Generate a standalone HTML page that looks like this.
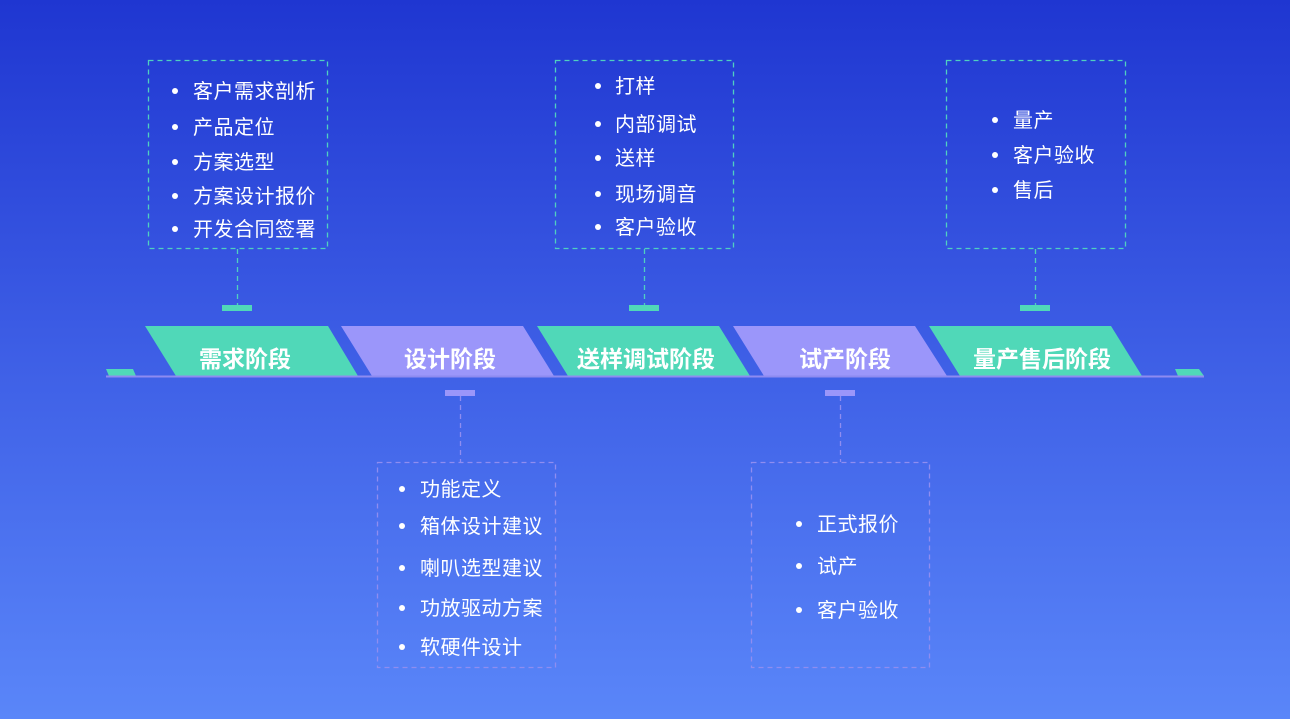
<!DOCTYPE html>
<html><head><meta charset="utf-8"><style>
body{margin:0}
#c{position:relative;width:1290px;height:719px;overflow:hidden;background:linear-gradient(180deg,#1f36d1 0%,#3e5fe6 50%,#5a86f9 100%);font-family:"Liberation Sans","Noto Sans CJK SC",sans-serif;color:#fff}
.t{position:absolute;font-size:20px;letter-spacing:0.5px;line-height:24px;white-space:nowrap;transform:translateY(-45%)}
.d{position:absolute;width:6px;height:6px;border-radius:50%;background:#fff;transform:translate(-50%,-50%)}
.lbl{position:absolute;top:357px;transform:translate(-50%,-50%);font-size:23px;font-weight:bold;white-space:nowrap}
</style></head><body><div id="c">
<svg width="1290" height="719" style="position:absolute;left:0;top:0">
<g fill="#50d8b8">
<polygon points="145,326 328,326 358,376 176,376"/>
<polygon points="537,326 719,326 750,376 568,376"/>
<polygon points="929,326 1111,326 1142,376 960,376"/>
<polygon points="106,369 133,369 136,376 109,376"/>
<polygon points="1175,369 1199,369 1204,376 1178,376"/>
</g>
<g fill="#9b96fa">
<polygon points="341,326 523,326 554,376 372,376"/>
<polygon points="733,326 915,326 947,376 764,376"/>
</g>
<line x1="106" y1="376.5" x2="1204" y2="376.5" stroke="#8e8bf0" stroke-width="2"/>
<g fill="none" stroke-dasharray="5,4" stroke-width="1.3">
<rect x="148.5" y="60.5" width="179" height="188" stroke="#4fd0c0"/>
<rect x="555.5" y="60.5" width="178" height="188" stroke="#4fd0c0"/>
<rect x="946.5" y="60.5" width="179" height="188" stroke="#4fd0c0"/>
<rect x="377.5" y="462.5" width="178" height="205" stroke="#8f8df0"/>
<rect x="751.5" y="462.5" width="178" height="205" stroke="#8f8df0"/>
<line x1="237.5" y1="249" x2="237.5" y2="305" stroke="#4fd0c0"/>
<line x1="644.5" y1="249" x2="644.5" y2="305" stroke="#4fd0c0"/>
<line x1="1035.5" y1="249" x2="1035.5" y2="305" stroke="#4fd0c0"/>
<line x1="460.5" y1="396" x2="460.5" y2="462" stroke="#8f8df0"/>
<line x1="840.5" y1="396" x2="840.5" y2="462" stroke="#8f8df0"/>
</g>
<g fill="#50d8b8">
<rect x="222" y="305" width="30" height="6"/><rect x="629" y="305" width="30" height="6"/><rect x="1020" y="305" width="30" height="6"/>
</g>
<g fill="#9b96fa">
<rect x="445" y="390" width="30" height="6"/><rect x="825" y="390" width="30" height="6"/>
</g>
</svg>
<div class="lbl" style="left:245px">需求阶段</div>
<div class="lbl" style="left:450px">设计阶段</div>
<div class="lbl" style="left:646px">送样调试阶段</div>
<div class="lbl" style="left:845px">试产阶段</div>
<div class="lbl" style="left:1042px">量产售后阶段</div>

<div class="d" style="left:175px;top:91px"></div><div class="t" style="left:193px;top:91px">客户需求剖析</div>
<div class="d" style="left:175px;top:127px"></div><div class="t" style="left:193px;top:127px">产品定位</div>
<div class="d" style="left:175px;top:162px"></div><div class="t" style="left:193px;top:162px">方案选型</div>
<div class="d" style="left:175px;top:196px"></div><div class="t" style="left:193px;top:196px">方案设计报价</div>
<div class="d" style="left:175px;top:229px"></div><div class="t" style="left:193px;top:229px">开发合同签署</div>

<div class="d" style="left:598px;top:86px"></div><div class="t" style="left:615px;top:86px">打样</div>
<div class="d" style="left:598px;top:124px"></div><div class="t" style="left:615px;top:124px">内部调试</div>
<div class="d" style="left:598px;top:158px"></div><div class="t" style="left:615px;top:158px">送样</div>
<div class="d" style="left:598px;top:194px"></div><div class="t" style="left:615px;top:194px">现场调音</div>
<div class="d" style="left:598px;top:227px"></div><div class="t" style="left:615px;top:227px">客户验收</div>

<div class="d" style="left:995px;top:120px"></div><div class="t" style="left:1013px;top:120px">量产</div>
<div class="d" style="left:995px;top:155px"></div><div class="t" style="left:1013px;top:155px">客户验收</div>
<div class="d" style="left:995px;top:190px"></div><div class="t" style="left:1013px;top:190px">售后</div>

<div class="d" style="left:402px;top:489px"></div><div class="t" style="left:420px;top:489px">功能定义</div>
<div class="d" style="left:402px;top:526px"></div><div class="t" style="left:420px;top:526px">箱体设计建议</div>
<div class="d" style="left:402px;top:568px"></div><div class="t" style="left:420px;top:568px">喇叭选型建议</div>
<div class="d" style="left:402px;top:608px"></div><div class="t" style="left:420px;top:608px">功放驱动方案</div>
<div class="d" style="left:402px;top:647px"></div><div class="t" style="left:420px;top:647px">软硬件设计</div>

<div class="d" style="left:799px;top:524px"></div><div class="t" style="left:817px;top:524px">正式报价</div>
<div class="d" style="left:799px;top:566px"></div><div class="t" style="left:817px;top:566px">试产</div>
<div class="d" style="left:799px;top:610px"></div><div class="t" style="left:817px;top:610px">客户验收</div>
</div></body></html>
